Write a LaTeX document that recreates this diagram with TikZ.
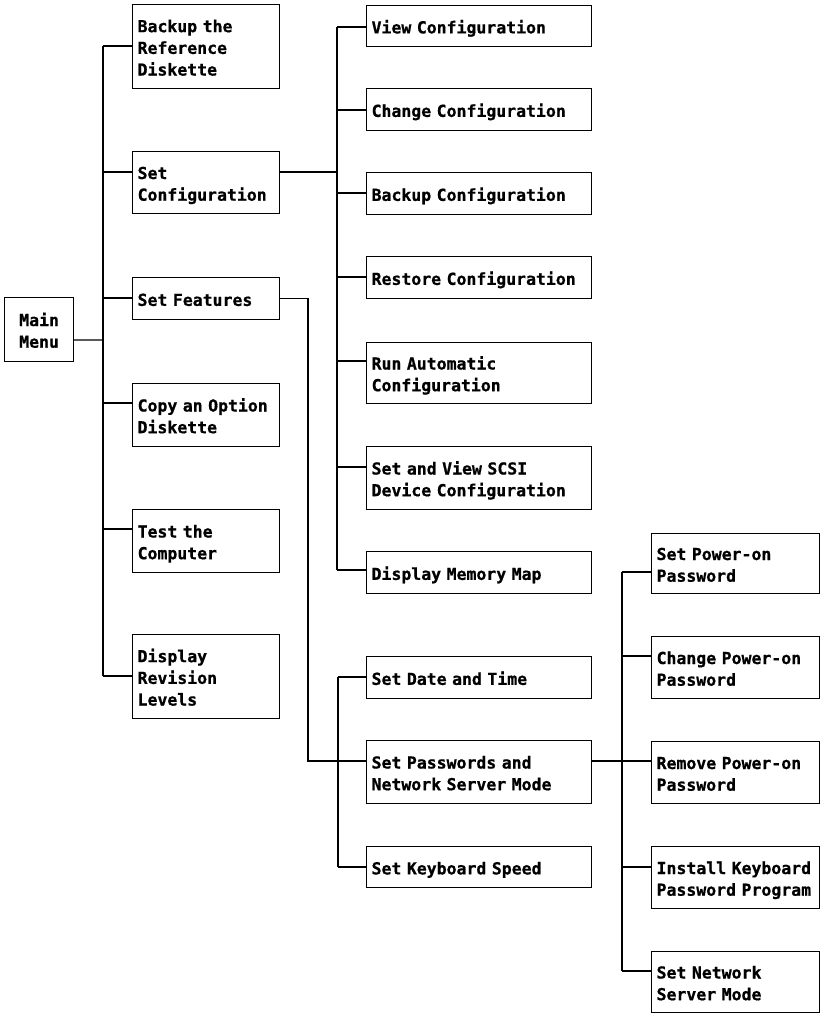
\documentclass[tikz,border=0pt]{standalone}
\usepackage{fontspec}
\setmonofont[BoldFeatures={FakeBold=0.8}]{DejaVu Sans Mono}
\usetikzlibrary{calc}
\begin{document}
\begin{tikzpicture}[x=1bp,y=-1bp,
  box/.style={draw, line width=1.2bp, anchor=north west, inner xsep=5bp, inner ysep=0bp, align=left,
    font=\fontsize{16.5bp}{21.7bp}\selectfont\ttfamily\bfseries,
    execute at begin node={\rule{0pt}{18.5bp}},
    execute at end node={\rule[-4bp]{0pt}{4bp}}},
  colA/.style={minimum width=147bp, text width=137bp},
  colB/.style={minimum width=225bp, text width=215bp},
  colC/.style={minimum width=168bp, text width=158bp},
  conn/.style={line width=1.2bp}]
\useasboundingbox (0,0) rectangle (823,1014);

% main
\node[box, minimum width=69bp, text width=59bp, align=center, minimum height=64bp] (mm) at (4,297) {Main\\Menu};

% level 1
\node[box,colA,minimum height=84bp] (bk) at (132,4) {Backup the\\Reference\\Diskette};
\node[box,colA,minimum height=62bp] (sc) at (132,151) {Set\\Configuration};
\node[box,colA,minimum height=42bp] (sf) at (132,277) {Set Features};
\node[box,colA,minimum height=63bp] (co) at (132,383) {Copy an Option\\Diskette};
\node[box,colA,minimum height=63bp] (tc) at (132,509) {Test the\\Computer};
\node[box,colA,minimum height=84bp] (dr) at (132,634) {Display\\Revision\\Levels};

% configuration
\node[box,colB,minimum height=41bp] (vc) at (366,5) {View Configuration};
\node[box,colB,minimum height=42bp] (cc) at (366,88) {Change Configuration};
\node[box,colB,minimum height=42bp] (bc) at (366,172) {Backup Configuration};
\node[box,colB,minimum height=42bp] (rc) at (366,256) {Restore Configuration};
\node[box,colB,minimum height=61bp] (ra) at (366,342) {Run Automatic\\Configuration};
\node[box,colB,minimum height=63bp] (sv) at (366,446) {Set and View SCSI\\Device Configuration};
\node[box,colB,minimum height=42bp] (dm) at (366,551) {Display Memory Map};

% features
\node[box,colB,minimum height=42bp] (sd) at (366,656) {Set Date and Time};
\node[box,colB,minimum height=63bp] (sp) at (366,740) {Set Passwords and\\Network Server Mode};
\node[box,colB,minimum height=41bp] (sk) at (366,846) {Set Keyboard Speed};

% passwords
\node[box,colC,minimum height=60bp] (p1) at (651,533) {Set Power-on\\Password};
\node[box,colC,minimum height=62bp] (p2) at (651,636) {Change Power-on\\Password};
\node[box,colC,minimum height=62bp] (p3) at (651,741) {Remove Power-on\\Password};
\node[box,colC,minimum height=62bp] (p4) at (651,846) {Install Keyboard\\Password Program};
\node[box,colC,minimum height=61bp] (p5) at (651,951) {Set Network\\Server Mode};

% trunk x positions
\coordinate (mT) at (103,340);
\coordinate (cT) at (337,0);
\coordinate (fx) at (308,0);
\coordinate (fT) at (338,0);
\coordinate (pT) at (622,0);

% attach points
\coordinate (Lbk) at ([yshift=-42bp]bk.north west);
\coordinate (Lsc) at ([yshift=-21bp]sc.north west);
\coordinate (Lsf) at ([yshift=-21bp]sf.north west);
\coordinate (Lco) at ([yshift=-20bp]co.north west);
\coordinate (Ltc) at ([yshift=-20bp]tc.north west);
\coordinate (Ldr) at ([yshift=-42bp]dr.north west);

\coordinate (Rsc) at ([yshift=-21bp]sc.north east);
\coordinate (Lvc) at ([yshift=-22bp]vc.north west);
\coordinate (Lcc) at ([yshift=-22bp]cc.north west);
\coordinate (Lbc) at ([yshift=-21bp]bc.north west);
\coordinate (Lrc) at ([yshift=-21bp]rc.north west);
\coordinate (Lra) at ([yshift=-19bp]ra.north west);
\coordinate (Lsv) at ([yshift=-21bp]sv.north west);
\coordinate (Ldm) at ([yshift=-19bp]dm.north west);

\coordinate (Lsd) at ([yshift=-21bp]sd.north west);
\coordinate (Lsp) at ([yshift=-21bp]sp.north west);
\coordinate (Rsp) at ([yshift=-21bp]sp.north east);
\coordinate (Lsk) at ([yshift=-21bp]sk.north west);

\coordinate (Lp1) at ([yshift=-39bp]p1.north west);
\coordinate (Lp2) at ([yshift=-20bp]p2.north west);
\coordinate (Lp3) at ([yshift=-20bp]p3.north west);
\coordinate (Lp4) at ([yshift=-21bp]p4.north west);
\coordinate (Lp5) at ([yshift=-20bp]p5.north west);

% main menu tree
\draw[conn] ([yshift=-43bp]mm.north east) -- (mT);
\draw[conn] (Lbk -| mT) -- (Ldr -| mT);
\foreach \n in {bk,sc,sf,co,tc,dr} \draw[conn] (L\n -| mT) -- (L\n);

% configuration tree
\draw[conn] (Rsc) -- (Rsc -| cT);
\draw[conn] (Lvc -| cT) -- (Ldm -| cT);
\foreach \n in {vc,cc,bc,rc,ra,sv,dm} \draw[conn] (L\n -| cT) -- (L\n);

% features tree
\draw[conn] (sf.east) -- (sf.east -| fx) |- (Lsp);
\draw[conn] (Lsd -| fT) -- (Lsk -| fT);
\foreach \n in {sd,sk} \draw[conn] (L\n -| fT) -- (L\n);

% passwords tree
\draw[conn] (Rsp) -- (Lp3);
\draw[conn] (Lp1 -| pT) -- (Lp5 -| pT);
\foreach \n in {p1,p2,p4,p5} \draw[conn] (L\n -| pT) -- (L\n);
\end{tikzpicture}
\end{document}
